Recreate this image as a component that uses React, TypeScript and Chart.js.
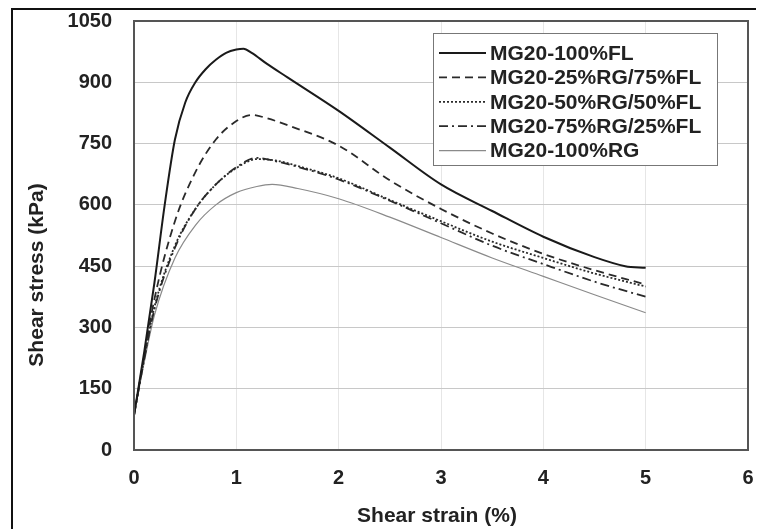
import React, { useEffect, useRef } from "react";
import { Chart, registerables } from "chart.js";

Chart.register(...registerables);

const seriesLabels = [
  "MG20-100%FL",
  "MG20-25%RG/75%FL",
  "MG20-50%RG/50%FL",
  "MG20-75%RG/25%FL",
  "MG20-100%RG",
];

const xTitle = "Shear strain (%)";
const yTitle = "Shear stress (kPa)";

const strainFL = [0, 0.1, 0.2, 0.3, 0.4, 0.5, 0.6, 0.7, 0.8, 0.9, 1.0, 1.07, 1.15, 1.3, 1.5, 2.0, 2.5, 3.0, 3.5, 4.0, 4.5, 4.8, 5.0];
const stressFL = [85, 240, 410, 600, 760, 850, 900, 932, 955, 972, 980, 982, 972, 945, 912, 830, 740, 650, 585, 522, 472, 450, 446];

const strain25 = [0, 0.1, 0.2, 0.4, 0.6, 0.8, 1.0, 1.15, 1.3, 1.5, 2.0, 2.5, 3.0, 3.5, 4.0, 4.5, 5.0];
const stress25 = [85, 230, 370, 560, 680, 760, 805, 820, 812, 795, 745, 660, 590, 530, 480, 440, 405];

const strain50 = [0, 0.1, 0.2, 0.4, 0.6, 0.8, 1.0, 1.2, 1.4, 1.6, 2.0, 2.5, 3.0, 3.5, 4.0, 4.5, 5.0];
const stress50 = [85, 225, 350, 500, 590, 650, 690, 712, 708, 695, 665, 612, 560, 510, 470, 432, 400];

const strain75 = [0, 0.1, 0.2, 0.4, 0.6, 0.8, 1.0, 1.2, 1.4, 1.6, 2.0, 2.5, 3.0, 3.5, 4.0, 4.5, 5.0];
const stress75 = [85, 222, 345, 495, 590, 650, 692, 715, 706, 693, 662, 610, 555, 500, 455, 412, 375];

const strainRG = [0, 0.1, 0.2, 0.4, 0.6, 0.8, 1.0, 1.2, 1.35, 1.6, 2.0, 2.5, 3.0, 3.5, 4.0, 4.5, 5.0];
const stressRG = [85, 215, 330, 470, 550, 600, 630, 645, 650, 640, 615, 570, 520, 470, 425, 380, 336];

const xTicks = [0, 1, 2, 3, 4, 5, 6];
const yTicks = [0, 150, 300, 450, 600, 750, 900, 1050];

const toPts = (xs: number[], ys: number[]) => xs.map((x, i) => ({ x, y: ys[i] }));

export default function App() {
  const ref = useRef<HTMLCanvasElement | null>(null);

  useEffect(() => {
    if (!ref.current) return;
    const font = "'Liberation Sans', Arial, sans-serif";
    const framePlugin = {
      id: "frame",
      beforeDraw(chart: any) {
        const ctx = chart.ctx;
        ctx.save();
        ctx.fillStyle = "#ffffff";
        ctx.fillRect(0, 0, chart.width, chart.height);
        ctx.strokeStyle = "#111";
        ctx.lineWidth = 2;
        ctx.beginPath();
        ctx.moveTo(12, 529);
        ctx.lineTo(12, 9);
        ctx.lineTo(756, 9);
        ctx.stroke();
        ctx.restore();
      },
      afterDatasetsDraw(chart: any) {
        const { ctx, chartArea } = chart;
        ctx.save();
        ctx.strokeStyle = "#555";
        ctx.lineWidth = 2;
        ctx.strokeRect(chartArea.left, chartArea.top, chartArea.right - chartArea.left, chartArea.bottom - chartArea.top);
        // legend box
        const lx = 433, ly = 33, lw = 284, lh = 132;
        ctx.fillStyle = "#fff";
        ctx.fillRect(lx, ly, lw, lh);
        ctx.strokeStyle = "#777";
        ctx.lineWidth = 1;
        ctx.strokeRect(lx + 0.5, ly + 0.5, lw, lh);
        const styles = chart.data.datasets;
        ctx.font = "bold 21px " + font;
        ctx.textBaseline = "middle";
        ctx.textAlign = "left";
        for (let i = 0; i < styles.length; i++) {
          const ds = styles[i];
          const y = 53 + i * 24.4;
          ctx.strokeStyle = ds.borderColor;
          ctx.lineWidth = ds.borderWidth;
          ctx.setLineDash(ds.borderDash || []);
          ctx.beginPath();
          ctx.moveTo(439, y);
          ctx.lineTo(486, y);
          ctx.stroke();
          ctx.setLineDash([]);
          ctx.fillStyle = "#222";
          ctx.fillText(ds.label, 490, y + 1);
        }
        // axis titles
        ctx.font = "bold 21px " + font;
        ctx.fillStyle = "#222";
        ctx.textAlign = "center";
        ctx.textBaseline = "middle";
        ctx.fillText(xTitle, 437, 516);
        ctx.translate(37, 275);
        ctx.rotate(-Math.PI / 2);
        ctx.fillText(yTitle, 0, 0);
        ctx.restore();
      },
    };

    const chart = new Chart(ref.current, {
      type: "line",
      data: {
        datasets: [
          { label: seriesLabels[0], data: toPts(strainFL, stressFL), borderColor: "#1a1a1a", borderWidth: 2, borderDash: [] },
          { label: seriesLabels[1], data: toPts(strain25, stress25), borderColor: "#2a2a2a", borderWidth: 1.8, borderDash: [8, 5] },
          { label: seriesLabels[2], data: toPts(strain50, stress50), borderColor: "#2a2a2a", borderWidth: 1.8, borderDash: [2, 2] },
          { label: seriesLabels[3], data: toPts(strain75, stress75), borderColor: "#2a2a2a", borderWidth: 1.8, borderDash: [9, 4, 2, 4] },
          { label: seriesLabels[4], data: toPts(strainRG, stressRG), borderColor: "#8a8a8a", borderWidth: 1.2, borderDash: [] },
        ] as any,
      },
      options: {
        animation: false,
        responsive: false,
        devicePixelRatio: 1,
        layout: { padding: { left: 12, right: 9, top: 21, bottom: 0 } },
        elements: {
          point: { radius: 0 },
          line: { cubicInterpolationMode: "monotone", fill: false },
        },
        plugins: {
          legend: { display: false },
          tooltip: { enabled: false },
        },
        scales: {
          x: {
            type: "linear",
            min: 0,
            max: 6,
            afterBuildTicks: (s: any) => { s.ticks = xTicks.map((v) => ({ value: v })); },
            afterFit: (s: any) => { s.height = 529 - 450; s.paddingLeft = 0; s.paddingRight = 0; },
            ticks: { color: "#222", font: { family: font, size: 20, weight: "bold" }, padding: 16, maxRotation: 0 },
            grid: { color: "#e6e6e6", drawTicks: false, lineWidth: 1 },
            border: { display: false },
            title: { display: false },
          },
          y: {
            type: "linear",
            min: 0,
            max: 1050,
            afterBuildTicks: (s: any) => { s.ticks = yTicks.map((v) => ({ value: v })); },
            afterFit: (s: any) => { s.width = 134 - 12; s.paddingTop = 0; s.paddingBottom = 0; },
            ticks: { color: "#222", font: { family: font, size: 20, weight: "bold" }, padding: 22, callback: (v: any) => String(v) },
            grid: { color: "#c8c8c8", drawTicks: false, lineWidth: 1 },
            border: { display: false },
            title: { display: false },
          },
        },
      } as any,
      plugins: [framePlugin],
    });
    return () => chart.destroy();
  }, []);

  return (
    <div style={{ position: "absolute", left: 0, top: 0, width: 757, height: 529 }}>
      <canvas ref={ref} width={757} height={529} style={{ width: 757, height: 529, display: "block" }} />
    </div>
  );
}
